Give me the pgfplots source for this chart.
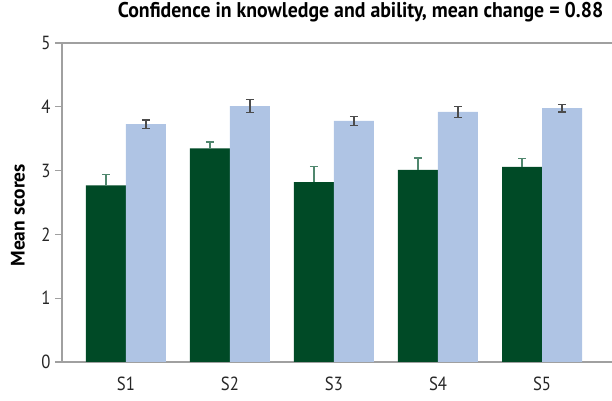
\documentclass[border=0pt]{standalone}
\usepackage{fontspec}
\setmainfont{PT Sans}[FakeStretch=0.88]
\newfontfamily\titlefont{PT Sans}[FakeStretch=0.93]
\newfontfamily\labelfont{PT Sans}
\usepackage{pgfplots}
\pgfplotsset{compat=1.18}
\definecolor{dgreen}{RGB}{0,74,38}
\definecolor{lblue}{RGB}{175,196,228}
\definecolor{egreen}{RGB}{80,135,110}
\definecolor{axgray}{RGB}{160,160,160}
\begin{document}
\begin{tikzpicture}
\begin{axis}[
  name=ax,
  scale only axis,
  width=550pt, height=319pt,
  xmin=-0.615, xmax=4.673,
  ymin=0, ymax=5,
  ytick={0,1,2,3,4,5},
  xtick={0,1,2,3,4},
  xticklabels={S1,S2,S3,S4,S5},
  axis x line*=box,
  axis y line*=left,
  axis line style={-, draw=axgray, line width=1.3pt},
  y tick style={draw=axgray, line width=1.1pt},
  x tick style={draw=none},
  tick align=outside,
  major tick length=7pt,
  /pgf/number format/assume math mode=true,
  tick label style={font=\fontsize{19}{19}\selectfont, text=black!85},
  yticklabel style={xshift=-1pt},
  xticklabel style={yshift=-4pt},
  ylabel={Mean scores},
  ylabel style={font=\labelfont\fontsize{19.5}{19.5}\selectfont\bfseries, at={(axis description cs:-0.08,0.46)}, anchor=center},
  title={Confidence in knowledge and ability, mean change = 0.88},
  every axis title shift=0pt,
  title style={font=\titlefont\fontsize{21.3}{21.3}\selectfont\bfseries, anchor=base, at={(axis description cs:0.543,1)}, yshift=25pt},
  ybar, bar width=40pt,
]
\addplot[fill=dgreen, draw=none, bar shift=-20pt,
  error bars/.cd, y dir=plus, y explicit,
  error bar style={draw=egreen, line width=1.4pt},
  error mark options={rotate=90, mark size=4pt, draw=egreen, line width=1.4pt}]
  coordinates {(0,2.77) +- (0,0.17) (1,3.35) +- (0,0.10) (2,2.82) +- (0,0.24) (3,3.01) +- (0,0.19) (4,3.06) +- (0,0.13)};
\addplot[fill=lblue, draw=none, bar shift=20pt,
  error bars/.cd, y dir=both, y explicit,
  error bar style={draw=black!70, line width=1.3pt},
  error mark options={rotate=90, mark size=4pt, draw=black!70, line width=1.3pt}]
  coordinates {(0,3.73) +- (0,0.065) (1,4.01) +- (0,0.10) (2,3.78) +- (0,0.07) (3,3.92) +- (0,0.09) (4,3.98) +- (0,0.06)};
\end{axis}
\pgfresetboundingbox
\path[use as bounding box] ([xshift=-62pt,yshift=-39pt]ax.south west) rectangle ([yshift=43pt]ax.north east);
\end{tikzpicture}
\end{document}
